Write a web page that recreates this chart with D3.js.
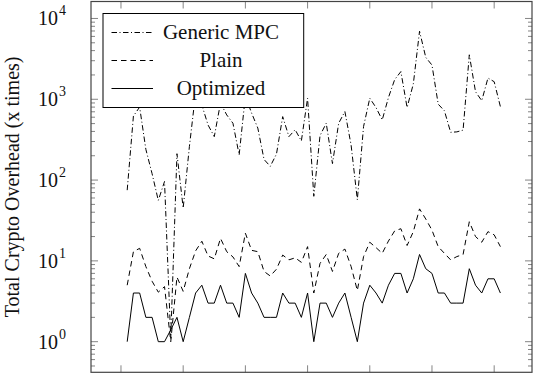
<!DOCTYPE html>
<html>
<head>
<meta charset="utf-8">
<script src="https://cdn.jsdelivr.net/npm/d3@7"></script>
<style>
  body { margin: 0; background: #fff; }
  svg { display: block; font-family: "Liberation Serif", "Times New Roman", serif; }
</style>
</head>
<body>
<svg id="chart" width="536" height="378"></svg>
<script>
const runs = d3.range(1, 62)
const xTicks = [0, 10, 20, 30, 40, 50, 60]
const yTicks = [1, 10, 100, 1000, 10000]
const seriesNames = ['Generic MPC', 'Plain', 'Optimized']

const genericMPC = [75, 620, 800, 240, 120, 56, 96, 1.1, 212, 45,
  260, 1200, 850, 480, 345, 900, 640, 505, 205, 1100,
  675, 440, 180, 148, 210, 610, 345, 420, 305, 1030,
  63, 355, 505, 160, 505, 705, 270, 57, 460, 1030,
  790, 555, 1050, 1750, 2200, 790, 1550, 6950, 3300, 2650,
  870, 720, 390, 395, 415, 3550, 1240, 960, 1830, 1650, 810]
const plain = [5, 13, 14.3, 8.5, 5.6, 4.1, 4.8, 1.0, 6.3, 4.2,
  8, 13.3, 17.5, 11.5, 10.6, 19, 13, 11.2, 8.5, 22,
  13.5, 13, 7.4, 6.5, 7.9, 11.8, 10.3, 10.9, 9.6, 15,
  4, 9.3, 12, 7.4, 12.4, 14, 8.5, 4.3, 11.3, 17,
  14.6, 12.4, 17.6, 23.5, 25, 15.5, 23, 44, 33, 24,
  15, 12.4, 10.3, 11.3, 12, 30.5, 20, 17, 23, 21, 15]
const optimized = [1, 4, 4, 2, 2, 1, 1, 1.4, 2, 1,
  2, 4, 5, 3, 3, 5, 3, 3, 2, 7,
  4, 3, 2, 2, 2, 4, 3, 3, 2, 4,
  1, 3, 3, 2, 3, 4, 2, 1, 3, 5,
  4, 3, 5, 7, 7, 4, 6, 12, 8, 7,
  4, 4, 3, 3, 3, 8, 5, 4, 6, 6, 4]

let svg = d3.select('#chart'),
    margin = {top: 1.5, right: 4, bottom: 5.7, left: 91},
    width = 536 - margin.left - margin.right,
    height = 378 - margin.top - margin.bottom

let x = d3.scaleLinear()
    .domain([-4.82, 66.08])
    .range([0, width])
let y = d3.scaleLog()
    .domain([Math.pow(10, -0.379), Math.pow(10, 4.21)])
    .range([height, 0])

let focus = svg.append('g')
    .attr('transform', 'translate(' + margin.left + ',' + margin.top + ')')

svg.append('defs').append('clipPath')
    .attr('id', 'plot-clip')
  .append('rect')
    .attr('width', width)
    .attr('height', height)

// ticks: x on bottom + top, y (log, with minors) on left + right, all pointing in
let minorTicks = []
for (let k = -1; k <= 4; k++) {
  for (let m = 2; m <= 9; m++) {
    let v = m * Math.pow(10, k)
    if (v > y.domain()[0] && v < y.domain()[1]) minorTicks.push(v)
  }
}

let ticks = focus.append('g').attr('stroke', '#777').attr('stroke-width', 0.9)
xTicks.forEach(t => {
  ticks.append('line').attr('x1', x(t)).attr('x2', x(t)).attr('y1', height).attr('y2', height - 7)
  ticks.append('line').attr('x1', x(t)).attr('x2', x(t)).attr('y1', 0).attr('y2', 7)
})
yTicks.forEach(t => {
  ticks.append('line').attr('x1', 0).attr('x2', 7).attr('y1', y(t)).attr('y2', y(t))
  ticks.append('line').attr('x1', width).attr('x2', width - 7).attr('y1', y(t)).attr('y2', y(t))
})
minorTicks.forEach(t => {
  ticks.append('line').attr('x1', 0).attr('x2', 4).attr('y1', y(t)).attr('y2', y(t))
  ticks.append('line').attr('x1', width).attr('x2', width - 4).attr('y1', y(t)).attr('y2', y(t))
})

// y tick labels as 10^k
let yLabels = focus.append('g')
yTicks.forEach(t => {
  yLabels.append('text')
      .attr('x', -33)
      .attr('y', y(t) + 7)
      .attr('text-anchor', 'end')
      .attr('font-size', 20)
      .attr('fill', '#111')
      .text('10')
  yLabels.append('text')
      .attr('x', -32)
      .attr('y', y(t) - 3)
      .attr('font-size', 14)
      .attr('fill', '#111')
      .text(Math.round(Math.log10(t)))
})

svg.append('text')
    .attr('transform', 'translate(19,' + (margin.top + height / 2) + ') rotate(-90)')
    .attr('text-anchor', 'middle')
    .attr('font-size', 20)
    .attr('fill', '#111')
    .text('Total Crypto Overhead (x times)')

let line = d3.line()
    .x((d, i) => x(runs[i]))
    .y(d => y(d))

let styles = [
  {data: genericMPC, dash: '5.5,2.5,1,2.5'},
  {data: plain, dash: '5.5,4'},
  {data: optimized, dash: null}
]

let lines = focus.append('g').attr('clip-path', 'url(#plot-clip)')
styles.forEach(s => {
  lines.append('path')
      .datum(s.data)
      .attr('d', line)
      .attr('fill', 'none')
      .attr('stroke', '#000')
      .attr('stroke-width', 1)
      .attr('stroke-dasharray', s.dash)
})

focus.append('rect')
    .attr('width', width)
    .attr('height', height)
    .attr('fill', 'none')
    .attr('stroke', '#444')
    .attr('stroke-width', 1.2)

// legend box over the top-left corner
let legend = focus.append('g').attr('transform', 'translate(12,12)')
legend.append('rect')
    .attr('width', 200.7)
    .attr('height', 94)
    .attr('fill', '#fff')
    .attr('stroke', '#000')
    .attr('stroke-width', 1)
seriesNames.forEach((name, i) => {
  let yy = 19 + i * 28
  legend.append('line')
      .attr('x1', 8.5).attr('x2', 50)
      .attr('y1', yy).attr('y2', yy)
      .attr('stroke', '#000')
      .attr('stroke-width', 1)
      .attr('stroke-dasharray', styles[i].dash)
  legend.append('text')
      .attr('x', 118)
      .attr('y', yy + 6)
      .attr('text-anchor', 'middle')
      .attr('font-size', 21)
      .attr('fill', '#111')
      .text(name)
})
</script>
</body>
</html>
